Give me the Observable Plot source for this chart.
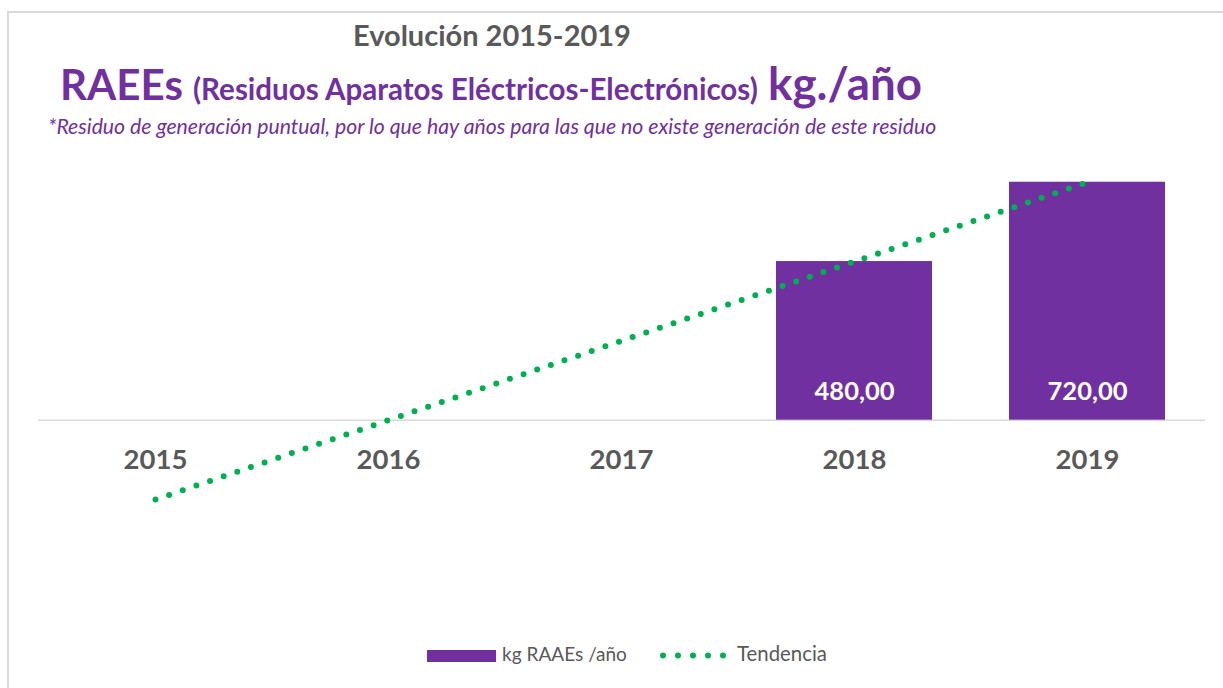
<!DOCTYPE html>
<html><head><meta charset="utf-8">
<script src="https://cdn.jsdelivr.net/npm/d3@7"></script>
<script src="https://cdn.jsdelivr.net/npm/@observablehq/plot@0.6"></script>
<style>
html,body{margin:0;padding:0;background:#fff;}
#wrap{position:relative;width:1223px;height:688px;overflow:hidden;font-family:Lato,"Open Sans",sans-serif;}
.frame{position:absolute;left:7px;top:11px;width:1300px;height:800px;border-left:2px solid #d9d9d9;border-top:2px solid #d9d9d9;}
.t{position:absolute;white-space:nowrap;line-height:1;top:0;}
#chart{position:absolute;left:0;top:150px;}
#legend{position:absolute;left:0;top:0;}
</style></head><body>
<div id="wrap">
<div class="frame"></div>
<div id="chart"></div>
<svg id="legend" width="1223" height="688"></svg>
<div class="t" id="t1" style="color:#595959;font-weight:700;">Evolución&nbsp;2015-2019</div>
<div class="t" id="t2a" style="color:#7030A0;font-weight:700;">RAEEs</div>
<div class="t" id="t2b" style="color:#7030A0;font-weight:700;">(Residuos Aparatos Eléctricos-Electrónicos)</div>
<div class="t" id="t2c" style="color:#7030A0;font-weight:700;">kg./año</div>
<div class="t" id="t3" style="color:#7030A0;font-style:italic;">*Residuo de generación puntual, por lo que hay años para las que no existe generación de este residuo</div>
<div class="t" id="l1" style="color:#595959;">kg RAAEs /año</div>
<div class="t" id="l2" style="color:#595959;">Tendencia</div>
</div>
<script>
// ---- data ----
const years = ["2015", "2016", "2017", "2018", "2019"];
const kgPerYear = [0, 0, 0, 480, 720];
const trendValues = [-240, 0, 240, 480, 720];
const seriesName = "kg RAAEs /año";
const trendName = "Tendencia";

const barData = years.map((y, i) => ({year: y, value: kgPerYear[i]}));
const trendData = years.map((y, i) => ({year: y, value: trendValues[i]}));
const fmt = v => v.toFixed(2).replace(".", ",");

const purple = "#7030A0";
const green = "#00B050";

const chart = Plot.plot({
  width: 1223,
  height: 468,
  marginLeft: 38,
  marginRight: 18,
  marginTop: 0,
  marginBottom: 0,
  style: {fontFamily: "Lato, 'Open Sans', sans-serif", overflow: "visible", background: "transparent"},
  x: {domain: years, paddingInner: 0.33, paddingOuter: 0.165, axis: null},
  y: {domain: [-600, 816], axis: null},
  marks: [
    Plot.ruleY([0], {stroke: "#d9d9d9", strokeWidth: 1.5}),
    Plot.barY(barData.filter(d => d.value > 0), {x: "year", y: "value", fill: purple}),
    Plot.text(barData.filter(d => d.value > 0), {x: "year", y: 0, dy: -28, text: d => fmt(d.value), fill: "#fff", fontSize: 25.5, fontWeight: 700}),
    Plot.text(years, {x: d => d, y: 0, dy: 40, text: d => d, fill: "#595959", fontSize: 27.5, fontWeight: 700}),
    Plot.line(trendData, {x: "year", y: "value", stroke: green, strokeWidth: 6, strokeDasharray: "0 14.4", strokeLinecap: "round"})
  ]
});
document.getElementById("chart").appendChild(chart);

// legend swatches
const lg = d3.select("#legend");
lg.append("rect").attr("x", 427).attr("y", 650).attr("width", 69).attr("height", 12).attr("fill", purple);
for (let i = 0; i < 5; i++) lg.append("circle").attr("cx", 663 + i * 15).attr("cy", 655.5).attr("r", 3).attr("fill", green);

// place text: left, baseline, target width
function place(id, left, baseline, width, fs) {
  const el = document.getElementById(id);
  el.style.fontSize = fs + "px";
  const w = el.getBoundingClientRect().width;
  const nfs = fs * width / w;
  el.style.fontSize = nfs + "px";
  const m = document.createElement("span");
  m.style.cssText = "display:inline-block;width:0;height:0;vertical-align:baseline;";
  el.appendChild(m);
  const wrapTop = document.getElementById("wrap").getBoundingClientRect().top;
  const by = m.getBoundingClientRect().bottom - wrapTop;
  el.style.top = (baseline - by) + "px";
  el.style.left = left + "px";
}
place("t1", 353, 46, 278, 26);
place("t2a", 60, 100, 123, 42);
place("t2b", 193, 100, 565, 27);
place("t2c", 768, 100, 154, 42);
place("t3", 48, 134, 889, 17);
place("l1", 502, 661, 125, 17);
place("l2", 737, 661, 90, 17);
</script>
</body></html>
